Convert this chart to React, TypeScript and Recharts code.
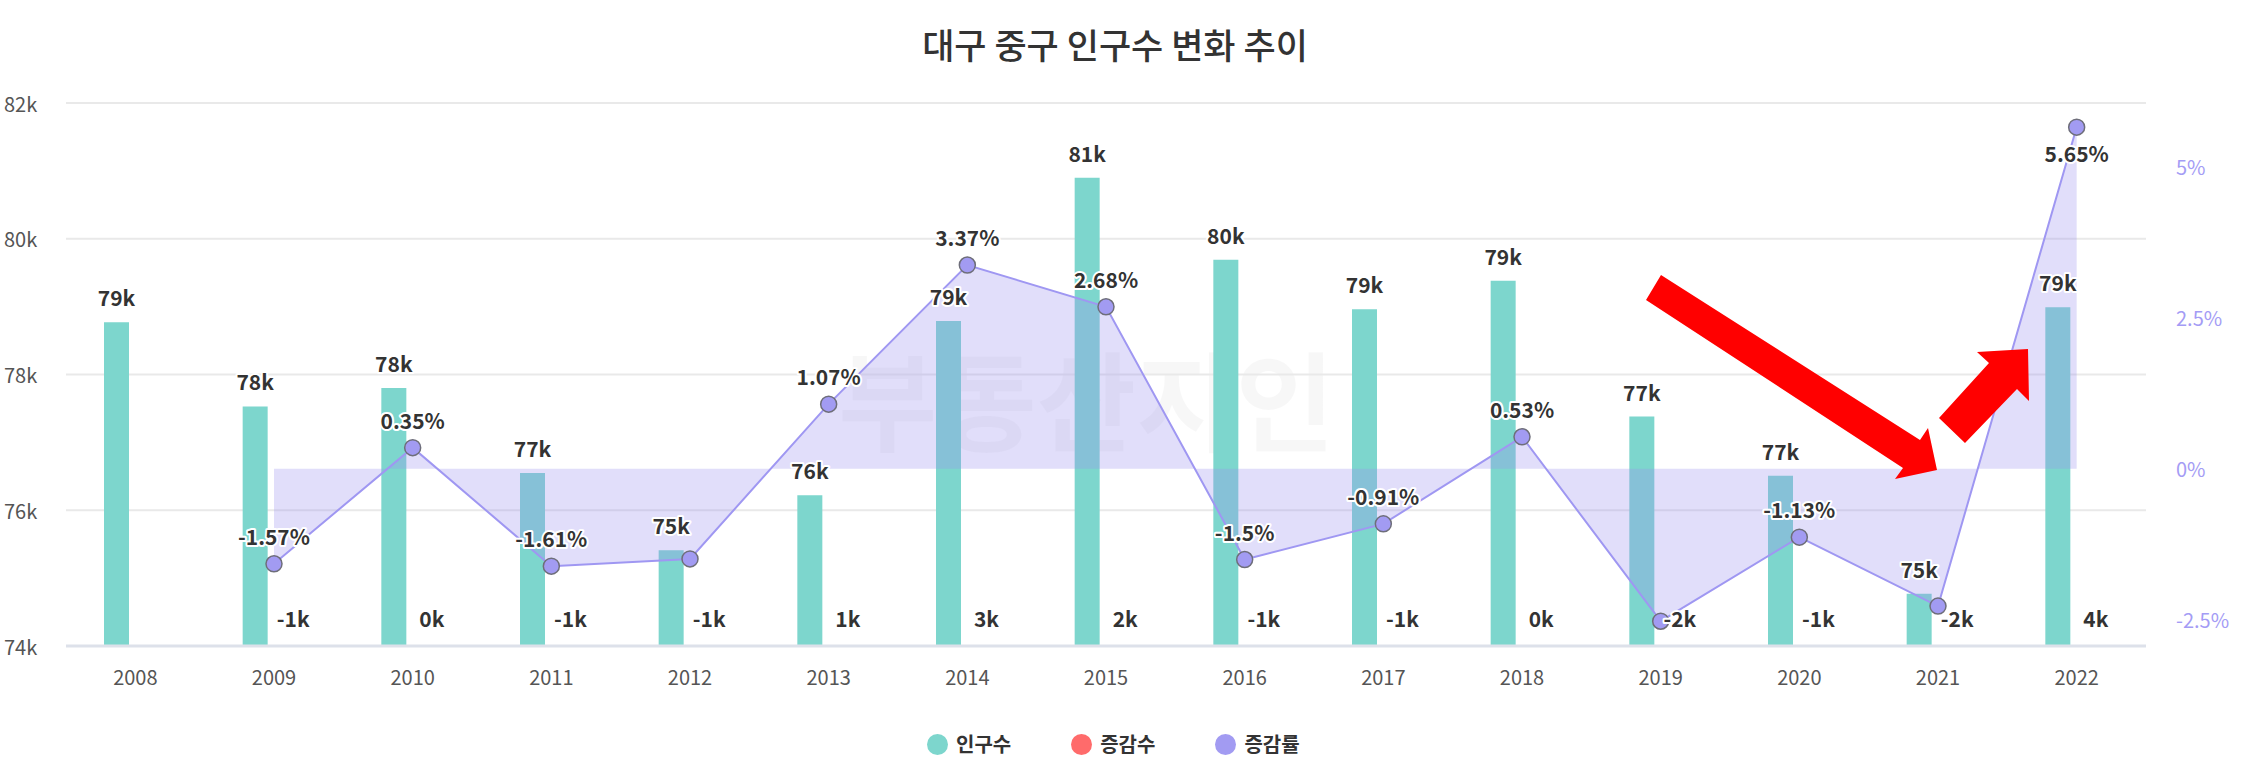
import React from "react"
import { Area, Bar, CartesianGrid, ComposedChart, LabelList, Line, XAxis, YAxis } from "recharts"

const FONT = '"Noto Sans CJK KR", "Noto Sans", sans-serif'

const years = ["2008", "2009", "2010", "2011", "2012", "2013", "2014", "2015", "2016", "2017", "2018", "2019", "2020", "2021", "2022"]
const population = [78770, 77530, 77800, 76550, 75410, 76220, 78790, 80900, 79690, 78960, 79380, 77380, 76510, 74770, 78990]
const changes = [null, -1240, 270, -1250, -1140, 810, 2570, 2110, -1210, -730, 420, -2000, -870, -1740, 4220]
const rates = [null, -1.57, 0.35, -1.61, -1.49, 1.07, 3.37, 2.68, -1.5, -0.91, 0.53, -2.52, -1.13, -2.27, 5.65]
// some rate labels are hidden in the original (collisions)
const rateLabelShown = [false, true, true, true, false, true, true, true, true, true, true, false, true, false, true]
const leftTicks = [74000, 76000, 78000, 80000, 82000]
const rightTicks = [-2.5, 0, 2.5, 5]
const seriesNames = ["인구수", "증감수", "증감률"]
const seriesColors = ["#7dd6cd", "#ff6b6b", "#a29bf2"]

const data = years.map((year, i) => ({
  year,
  pop: population[i],
  chg: changes[i],
  rate: rates[i],
}))

const haloText = {
  fontFamily: FONT,
  fontSize: 21,
  fontWeight: 600,
  fill: "#333",
  stroke: "#fff",
  strokeWidth: 4,
  strokeLinejoin: "round" as const,
  paintOrder: "stroke",
}

const CHG_LABEL_Y = 618

const LeftTick = (props: any) => (
  <text x={4} y={props.y} dominantBaseline="central" fontSize={20} fill="#555" fontFamily={FONT}>
    {props.payload.value / 1000}k
  </text>
)

const RightTick = (props: any) => (
  <text x={2176} y={props.y} dominantBaseline="central" fontSize={20} fill="#a49cf5" fontFamily={FONT}>
    {props.payload.value}%
  </text>
)

const XTick = (props: any) => (
  <text x={props.x} y={676} textAnchor="middle" dominantBaseline="central" fontSize={20} fill="#555" fontFamily={FONT}>
    {props.payload.value}
  </text>
)

const PopLabel = (props: any) => {
  const { x, y, width, value } = props
  if (value == null) return null
  return (
    <text x={x + width / 2} y={y - 25} textAnchor="middle" dominantBaseline="central" style={haloText}>
      {Math.round(value / 1000)}k
    </text>
  )
}

const ChgLabel = (props: any) => {
  const { x, width, value } = props
  if (value == null) return null
  const k = Math.round(value / 1000)
  return (
    <text x={x + width / 2} y={CHG_LABEL_Y} textAnchor="middle" dominantBaseline="central" style={haloText}>
      {k === 0 ? 0 : k}k
    </text>
  )
}

const RateLabel = (props: any) => {
  const { x, y, value, index } = props
  if (value == null || !rateLabelShown[index]) return null
  const ly = y < 150 ? y + 26 : y - 28
  return (
    <text x={x} y={ly} textAnchor="middle" dominantBaseline="central" style={haloText}>
      {value}%
    </text>
  )
}

export default function App() {
  return (
    <div style={{ position: "absolute", left: 0, top: 0, width: 2242, height: 758, background: "#fff", overflow: "hidden" }}>
      {/* faint watermark */}
      <div style={{ position: "absolute", left: 858, top: 292, fontFamily: FONT, fontSize: 34, letterSpacing: 22, color: "rgba(0,0,0,0.025)" }}>
        BIGDATA
      </div>
      <div style={{ position: "absolute", left: 838, top: 318, fontFamily: FONT, fontSize: 108, fontWeight: 700, color: "rgba(0,0,0,0.03)" }}>
        부동산지인
      </div>

      <div
        style={{
          position: "absolute",
          left: 0,
          top: 18,
          width: 2230,
          textAlign: "center",
          fontFamily: FONT,
          fontSize: 35,
          fontWeight: 500,
          color: "#333",
        }}
      >
        대구 중구 인구수 변화 추이
      </div>

      <div style={{ position: "absolute", left: 0, top: 0 }}>
        <ComposedChart width={2242} height={758} data={data} margin={{ top: 103, right: 0, bottom: 62, left: 0 }} barGap={13} barSize={25}>
          <CartesianGrid yAxisId="left" vertical={false} stroke="#e9e9e9" strokeWidth={2} />
          <XAxis dataKey="year" height={50} interval={0} tickLine={false} axisLine={{ stroke: "#dde1ea", strokeWidth: 3 }} tick={XTick} />
          <YAxis
            yAxisId="left"
            width={66}
            domain={[74000, 82000]}
            ticks={leftTicks}
            allowDataOverflow
            axisLine={false}
            tickLine={false}
            tick={LeftTick}
          />
          <YAxis
            yAxisId="right"
            orientation="right"
            width={96}
            domain={[-2.93, 6.05]}
            ticks={rightTicks}
            allowDataOverflow
            axisLine={false}
            tickLine={false}
            tick={RightTick}
          />
          <Bar yAxisId="left" dataKey="pop" name={seriesNames[0]} fill={seriesColors[0]} isAnimationActive={false}>
            <LabelList dataKey="pop" content={PopLabel} />
          </Bar>
          <Bar yAxisId="left" dataKey="chg" name={seriesNames[1]} fill={seriesColors[1]} isAnimationActive={false}>
            <LabelList dataKey="chg" content={ChgLabel} />
          </Bar>
          <Area
            yAxisId="right"
            dataKey="rate"
            name={seriesNames[2]}
            baseValue={0}
            fill="#9d92f0"
            fillOpacity={0.3}
            stroke="none"
            type="linear"
            zIndex={350}
            isAnimationActive={false}
          />
          <Line
            yAxisId="right"
            dataKey="rate"
            type="linear"
            stroke="#9f97f2"
            strokeWidth={2}
            dot={{ r: 8, fill: seriesColors[2], stroke: "#6e6e7a", strokeWidth: 1.5 }}
            isAnimationActive={false}
            legendType="none"
          >
            <LabelList dataKey="rate" content={RateLabel} />
          </Line>
        </ComposedChart>
      </div>

      {/* red annotation arrows */}
      <svg width={2242} height={758} style={{ position: "absolute", left: 0, top: 0, pointerEvents: "none" }}>
        <polygon points="1661,275 1920,440 1928,428 1937,470 1895,479 1903,468 1646,300" fill="#ff0000" />
        <polygon points="2028,349 1977,352 1989,363 1939,418 1965,443 2017,389 2029,401" fill="#ff0000" />
      </svg>

      {/* legend */}
      <div
        style={{
          position: "absolute",
          left: 927,
          top: 731,
          display: "flex",
          alignItems: "center",
          fontFamily: FONT,
          fontSize: 20,
          fontWeight: 700,
          color: "#333",
        }}
      >
        {seriesNames.map((n, i) => (
          <div key={n} style={{ display: "flex", alignItems: "center", marginRight: i < 2 ? 60 : 0 }}>
            <span style={{ width: 21, height: 21, borderRadius: "50%", background: seriesColors[i], marginRight: 8, display: "inline-block" }} />
            <span style={{ lineHeight: "26px" }}>{n}</span>
          </div>
        ))}
      </div>
    </div>
  )
}
